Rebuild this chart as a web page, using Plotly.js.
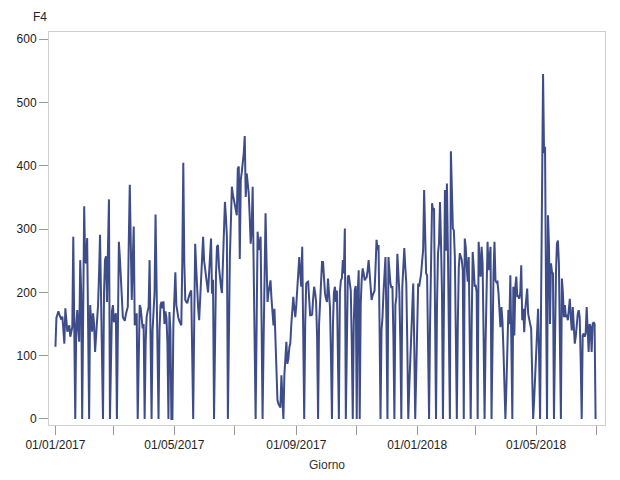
<!DOCTYPE html>
<html>
<head>
<meta charset="utf-8">
<script src="https://cdn.plot.ly/plotly-3.0.1.min.js"></script>
<style>html,body{margin:0;padding:0;background:#fff;}#chart{width:620px;height:480px;}</style>
</head>
<body>
<div id="chart"></div>
<script>
// First day of the daily series
const startDate = "2017-01-01";

// Daily values F4, 2017 (01/01/2017 .. 31/12/2017)
const values2017 = [
  114,160,165,170,165,160,157,
  162,140,119,175,155,138,142,
  148,130,140,145,288,130,0,
  150,172,140,122,251,200,0,
  180,336,250,246,286,150,0,
  180,160,138,167,150,106,130,
  150,180,230,291,194,97,0,
  200,251,257,185,270,347,0,
  100,170,180,153,160,167,0,
  180,280,255,230,195,161,158,
  155,165,170,177,280,370,280,
  188,250,304,148,160,167,0,
  120,180,175,160,143,150,0,
  120,161,170,177,251,150,0,
  140,170,200,323,200,90,0,
  140,180,185,175,186,150,170,
  160,120,0,169,140,0,0,
  150,190,232,180,166,160,155,
  150,148,250,405,250,188,185,
  183,190,198,200,203,120,0,
  150,277,240,200,175,156,190,
  214,250,288,250,238,220,210,
  200,230,260,285,198,220,0,
  150,230,272,275,240,220,209,
  199,240,300,343,320,288,0,
  200,256,310,367,355,345,340,
  330,322,396,399,253,378,390,
  405,420,447,351,388,370,357,
  320,277,300,367,240,120,0,
  150,296,267,275,288,150,0,
  120,250,325,250,185,200,210,
  219,190,170,148,174,130,80,
  30,24,20,18,69,30,0,
  70,100,122,87,95,113,120,
  150,170,193,175,161,180,203,
  230,256,230,209,272,150,0,
  150,214,216,217,190,164,164,
  165,190,209,200,185,130,0,
  150,185,203,248,248,220,198,
  190,185,222,200,177,100,0,
  150,200,209,185,203,100,0,
  200,219,222,251,230,301,0,
  180,224,227,215,203,120,0,
  150,204,210,0,200,235,0,
  180,220,238,230,219,222,224,
  235,251,230,210,188,195,200,
  203,240,283,267,275,150,0,
  140,161,200,230,256,150,0,
  256,230,214,207,210,130,0,
  180,193,261,230,200,120,0,
  209,250,270,240,215,120,0,
  50,100,150,200,214,120,0,
  70
];

// Daily values F4, 2018 (01/01/2018 .. 30/06/2018)
const values2018 = [
  140,214,209,217,230,250,
  267,362,300,230,227,120,0,
  150,260,341,330,333,170,0,
  180,262,277,343,280,200,0,
  200,362,266,372,266,130,0,
  423,350,301,298,256,130,0,
  150,240,262,255,251,235,0,
  285,272,240,217,256,130,0,
  150,264,240,209,212,200,0,
  280,250,225,272,246,130,0,
  120,200,280,235,250,272,0,
  150,230,280,219,216,217,200,
  177,145,177,156,111,60,0,
  50,110,172,150,227,120,0,
  209,132,209,225,193,195,190,
  200,243,156,174,137,172,190,
  206,166,155,150,143,80,0,
  30,70,110,140,174,100,0,
  180,360,545,420,430,200,0,
  322,272,150,246,232,230,0,
  150,230,277,282,246,150,0,
  222,200,161,180,161,165,156,
  170,190,160,140,177,145,119,
  130,150,166,172,160,90,0,
  132,135,130,135,177,140,106,
  150,145,106,150,153,150,0
];

// Axis ticks
const tickDates = ["2017-01-01","2017-03-01","2017-05-01","2017-07-01","2017-09-01","2017-11-01","2018-01-01","2018-03-01","2018-05-01","2018-07-01"];
const tickLabels = ["01/01/2017","","01/05/2017","","01/09/2017","","01/01/2018","","01/05/2018",""];
const yTicks = [0,100,200,300,400,500,600];

const values = values2017.concat(values2018);
const dates = [];
const base = new Date(startDate + "T00:00:00Z");
for (let i = 0; i < values.length; i++) {
  const d = new Date(base.getTime() + i * 86400000);
  dates.push(d.toISOString().slice(0, 10));
}

const trace = {
  x: dates, y: values, type: "scatter", mode: "lines",
  line: {color: "rgb(62,77,138)", width: 2},
  hoverinfo: "x+y"
};

const fontFam = "Liberation Sans, Arial, sans-serif";
const layout = {
  width: 620, height: 480,
  margin: {l: 49, r: 15, t: 32, b: 55},
  paper_bgcolor: "#fff", plot_bgcolor: "#fff",
  showlegend: false,
  font: {family: fontFam, size: 12, color: "#222"},
  xaxis: {
    type: "date",
    range: ["2016-12-25 12:00", "2018-07-09 12:00"],
    tickvals: tickDates, ticktext: tickLabels,
    ticks: "outside", ticklen: 9, tickwidth: 1, tickcolor: "#999",
    showgrid: false, zeroline: false,
    showline: true, linecolor: "#cfcfcf", linewidth: 1, mirror: true,
    tickfont: {size: 12, color: "#222"},
    title: {text: "Giorno", font: {size: 12, color: "#333"}, standoff: 9}
  },
  yaxis: {
    range: [-9.5, 611.5],
    tickvals: yTicks,
    ticks: "outside", ticklen: 9, tickwidth: 1, tickcolor: "#999",
    showgrid: false, zeroline: false,
    showline: true, linecolor: "#cfcfcf", linewidth: 1, mirror: true,
    tickfont: {size: 12, color: "#222"}
  },
  annotations: [{
    text: "F4", xref: "paper", yref: "paper",
    x: -0.016, y: 1.038, xanchor: "center", yanchor: "middle",
    showarrow: false, font: {size: 12, color: "#222"}
  }]
};

Plotly.newPlot("chart", [trace], layout, {displayModeBar: false, staticPlot: true});
</script>
</body>
</html>
